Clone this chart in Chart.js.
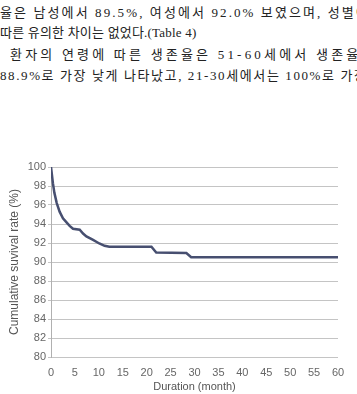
<!DOCTYPE html>
<html>
<head>
<meta charset="utf-8">
<script src="https://cdn.jsdelivr.net/npm/chart.js@4"></script>
<style>
  html,body{margin:0;padding:0;background:#fff;}
  body{width:357px;height:394px;position:relative;overflow:hidden;}
  .ln{position:absolute;left:0;white-space:nowrap;height:20px;line-height:20px;
    font-family:"Liberation Serif","Noto Sans CJK KR",serif;font-size:13px;color:#222;}
  #l1{top:3px;letter-spacing:2.1px;}
  #l2{top:23px;letter-spacing:0.2px;}
  #l3{top:45px;letter-spacing:3.2px;left:10px;}
  #l4{top:66px;letter-spacing:1.6px;}
  .wrap{position:absolute;left:0;top:150px;width:357px;height:244px;}
</style>
</head>
<body>
<div class="ln" id="l1">율은 남성에서 89.5%, 여성에서 92.0% 보였으며, 성별에</div>
<div class="ln" id="l2">따른 유의한 차이는 없었다.(Table 4)</div>
<div class="ln" id="l3">환자의 연령에 따른 생존율은 51-60세에서 생존율이</div>
<div class="ln" id="l4">88.9%로 가장 낮게 나타났고, 21-30세에서는 100%로 가장</div>
<div class="wrap"><canvas id="km"></canvas></div>
<script>
// 추적 기간(개월)과 누적 생존율(%)
const months=[0,0.4,0.7,1.2,1.8,2.5,3.2,3.9,4.6,6.0,6.7,7.4,8.7,10.1,11.2,12.2,21.0,22.0,28.3,29.3,60];
const survival=[100,98.3,97.3,96.2,95.3,94.6,94.2,93.8,93.5,93.4,93.0,92.7,92.35,91.95,91.7,91.6,91.6,91.0,90.95,90.5,90.5];
const xTicks=[0,5,10,15,20,25,30,35,40,45,50,55,60];
const yTicks=[80,82,84,86,88,90,92,94,96,98,100];

const tickFont={family:"'Liberation Sans Narrow','Liberation Sans',Arial,sans-serif",size:11};

new Chart(document.getElementById("km"),{
  type:"line",
  data:{datasets:[{
    data:months.map((m,i)=>({x:m,y:survival[i]})),
    borderColor:"#474f70",borderWidth:2.5,pointRadius:0,tension:0,fill:false
  }]},
  options:{
    responsive:true,maintainAspectRatio:false,animation:false,
    layout:{padding:{top:17,right:19,left:0,bottom:0}},
    plugins:{legend:{display:false},tooltip:{enabled:false}},
    scales:{
      x:{
        type:"linear",min:0,max:60,
        afterBuildTicks:s=>{s.ticks=xTicks.map(v=>({value:v}))},
        afterFit:s=>{s.height=37},
        grid:{display:false,drawTicks:false},border:{display:false},
        ticks:{color:"#666",font:tickFont,padding:9,maxRotation:0,autoSkip:false},
        title:{display:true,text:"Duration (month)",color:"#555",
          font:{family:"'Liberation Sans',Arial,sans-serif",size:11},padding:{top:0,bottom:0}}
      },
      y:{
        min:80,max:100,
        afterBuildTicks:s=>{s.ticks=yTicks.map(v=>({value:v}))},
        afterFit:s=>{s.width=51},
        grid:{color:"#c4c4c4",lineWidth:1,tickLength:3},
        border:{display:true,color:"#b0b0b0"},
        ticks:{color:"#666",font:tickFont,padding:2},
        title:{display:true,text:"Cumulative suvival rate (%)",color:"#555",
          font:{family:"'Liberation Sans',Arial,sans-serif",size:12},padding:{top:7,bottom:0}}
      }
    }
  }
});
</script>
</body>
</html>
